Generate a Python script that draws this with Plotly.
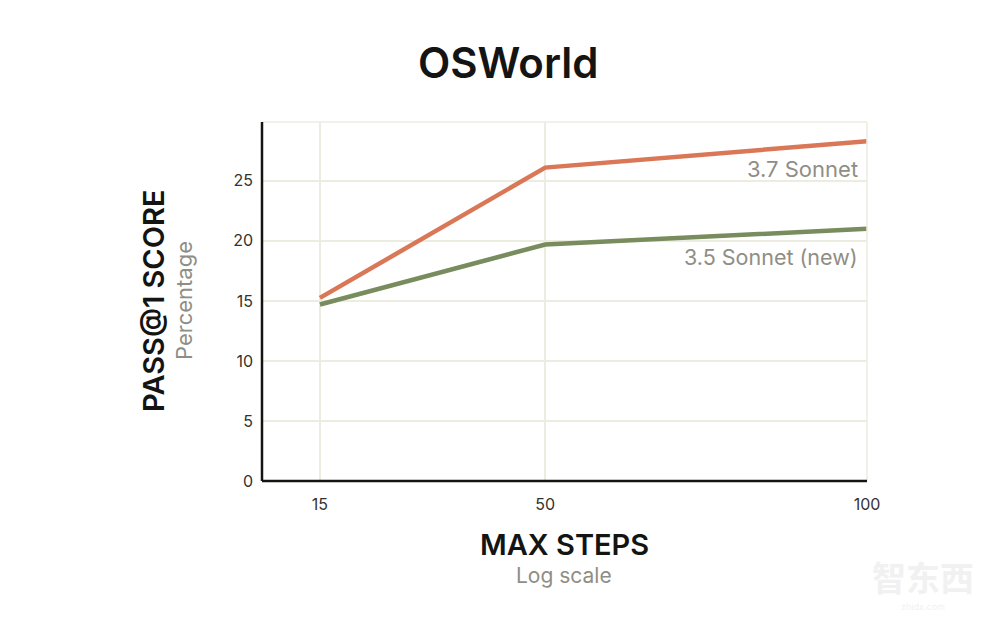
import plotly.graph_objects as go

max_steps = [15, 50, 100]
sonnet_37 = [15.25, 26.1, 28.3]
sonnet_35_new = [14.7, 19.7, 21.0]
y_ticks = [0, 5, 10, 15, 20, 25]

ORANGE = "#d97757"
GREEN = "#788c5d"
GRID = "#ecece1"
GREY = "#8f8e85"
INK = "#141413"
FONT = "Inter"

# the page body has an 8px margin, so everything is worked out in page pixels minus that
PAGE_W, PAGE_H = 1000, 627
BODY = 8
W, H = PAGE_W - BODY, PAGE_H - BODY
left, right, top, bottom = 262, 867, 122, 481

margin_l, margin_r = left - BODY, PAGE_W - right
margin_t, margin_b = top - BODY, PAGE_H - bottom
plot_w, plot_h = right - left, bottom - top

fig = go.Figure()
fig.add_trace(go.Scatter(x=max_steps, y=sonnet_35_new, mode="lines", name="3.5 Sonnet (new)",
                         line=dict(color=GREEN, width=4.5), showlegend=False))
fig.add_trace(go.Scatter(x=max_steps, y=sonnet_37, mode="lines", name="3.7 Sonnet",
                         line=dict(color=ORANGE, width=4.5), showlegend=False))

fig.update_layout(
    width=W, height=H, paper_bgcolor="white", plot_bgcolor="white",
    margin=dict(l=margin_l, r=margin_r, t=margin_t, b=margin_b),
    xaxis=dict(range=[6, 100], tickvals=max_steps, showgrid=True, gridcolor=GRID, gridwidth=1.5,
               zeroline=False, showline=False, ticks="", ticklabelstandoff=12,
               tickfont=dict(family=FONT, size=16, color="#333330")),
    yaxis=dict(range=[0, 29.9], tickvals=y_ticks, showgrid=True, gridcolor=GRID, gridwidth=1.5,
               zeroline=False, showline=False, ticks="", ticklabelstandoff=8,
               tickfont=dict(family=FONT, size=16, color="#333330")),
)

# frame: pale top and right edge, black left and bottom axis
fig.add_shape(type="line", xref="paper", yref="paper", x0=0, x1=1, y0=1, y1=1, line=dict(color=GRID, width=1.5))
fig.add_shape(type="line", xref="paper", yref="paper", x0=1, x1=1, y0=0, y1=1, line=dict(color=GRID, width=1.5))
fig.add_shape(type="line", xref="paper", yref="paper", x0=0, x1=1, y0=0, y1=0, line=dict(color=INK, width=2.5))
fig.add_shape(type="line", xref="paper", yref="paper", x0=0, x1=0, y0=0, y1=1, line=dict(color=INK, width=2.5))


def page_label(text, px, py, size, color=INK, weight="normal", angle=0, anchor="center", family=FONT):
    fig.add_annotation(text=text, x=(px - left) / plot_w, y=(bottom - py) / plot_h,
                       xref="paper", yref="paper", showarrow=False, textangle=angle,
                       font=dict(family=family, size=size, color=color, weight=weight),
                       xanchor=anchor, yanchor="middle")


page_label("OSWorld", 508, 62, 42, INK, 600)
page_label("MAX STEPS", 564, 544, 29, INK, 600)
page_label("Log scale", 564, 575, 21, GREY)
page_label("PASS@1 SCORE", 153, 301, 29, INK, 600, angle=-90)
page_label("Percentage", 184, 301, 22, GREY, angle=-90)
page_label("3.7 Sonnet", 860, 169, 22, GREY, anchor="right")
page_label("3.5 Sonnet (new)", 860, 257, 21.5, GREY, anchor="right")

# faint watermark in the lower right corner
page_label("智东西", 923, 576, 34, "#f1f1f1", 700, family="Noto Sans CJK SC")
page_label("zhidx.com", 923, 606, 9, "#f1f1f1")

fig.write_html("out.html")
